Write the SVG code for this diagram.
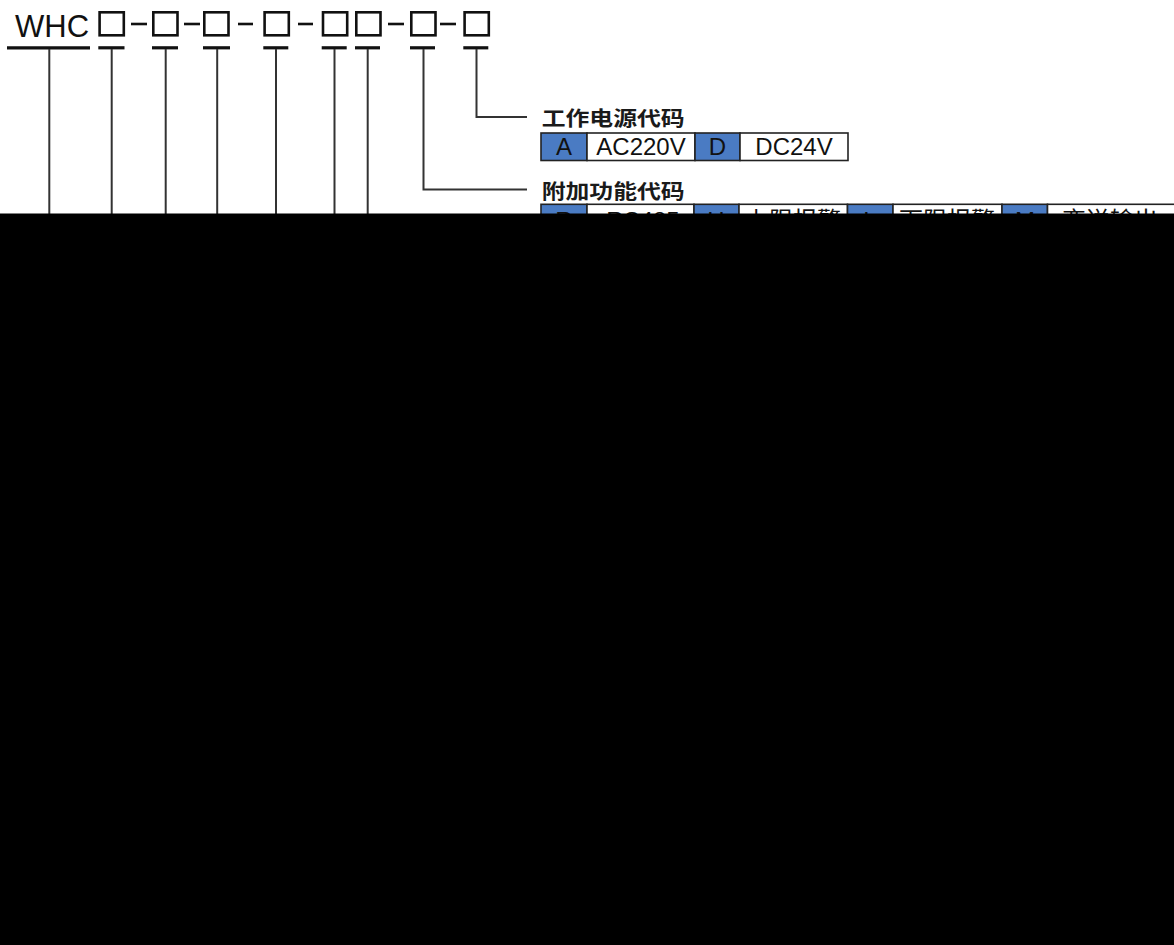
<svg xmlns="http://www.w3.org/2000/svg" width="1174" height="945" viewBox="0 0 1174 945">
<style>
.bx{fill:none;stroke:#111;stroke-width:2.6}
.ds{stroke:#111;stroke-width:2.6}
.ul{stroke:#111;stroke-width:3.2}
.cn{fill:none;stroke:#333;stroke-width:2}
.code{font-family:"Liberation Sans",Arial,sans-serif;font-size:31px;fill:#111}
.lbl{font-family:"Noto Sans CJK SC","Noto Sans",sans-serif;font-size:20px;font-weight:bold;fill:#1a1a1a}
.cell{stroke:#222;stroke-width:1.6}
.b{fill:#4A7BC3}
.w{fill:#fff}
.ct{font-family:"Liberation Sans",Arial,"Noto Sans CJK SC",sans-serif;font-size:24px;fill:#111;text-anchor:middle}
</style>
<rect width="1174" height="945" fill="#fff"/>
<g id="model">
<text class="code" x="15" y="36.5">WHC</text>
<rect class="bx" x="99.6" y="12.3" width="24.2" height="23"/>
<line class="ds" x1="131" y1="24" x2="147" y2="24"/>
<rect class="bx" x="153.3" y="12.3" width="24.2" height="23"/>
<line class="ds" x1="184" y1="24" x2="200" y2="24"/>
<rect class="bx" x="204.3" y="12.3" width="24.2" height="23"/>
<line class="ds" x1="238" y1="24" x2="253" y2="24"/>
<rect class="bx" x="264.6" y="12.3" width="24.2" height="23"/>
<line class="ds" x1="298" y1="24" x2="313" y2="24"/>
<rect class="bx" x="323" y="12.3" width="24.2" height="23"/>
<rect class="bx" x="356.3" y="12.3" width="24.2" height="23"/>
<line class="ds" x1="388" y1="24" x2="404" y2="24"/>
<rect class="bx" x="411.3" y="12.3" width="24.2" height="23"/>
<line class="ds" x1="440" y1="24" x2="456" y2="24"/>
<rect class="bx" x="464.6" y="12.3" width="24.2" height="23"/>
</g>
<g id="underlines">
<line class="ul" x1="7" y1="47.8" x2="90" y2="47.8"/>
<line class="ul" x1="98.3" y1="47.8" x2="124.5" y2="47.8"/>
<line class="ul" x1="152" y1="47.8" x2="178" y2="47.8"/>
<line class="ul" x1="203" y1="47.8" x2="230" y2="47.8"/>
<line class="ul" x1="263.3" y1="47.8" x2="288.3" y2="47.8"/>
<line class="ul" x1="321.7" y1="47.8" x2="346.7" y2="47.8"/>
<line class="ul" x1="355" y1="47.8" x2="380" y2="47.8"/>
<line class="ul" x1="410" y1="47.8" x2="435" y2="47.8"/>
<line class="ul" x1="463.3" y1="47.8" x2="488.3" y2="47.8"/>
</g>
<g id="connectors">
<line class="cn" x1="49.3" y1="49" x2="49.3" y2="214"/>
<line class="cn" x1="111.7" y1="49" x2="111.7" y2="214"/>
<line class="cn" x1="165.7" y1="49" x2="165.7" y2="214"/>
<line class="cn" x1="217.2" y1="49" x2="217.2" y2="214"/>
<line class="cn" x1="276" y1="49" x2="276" y2="214"/>
<line class="cn" x1="334.5" y1="49" x2="334.5" y2="214"/>
<line class="cn" x1="367.7" y1="49" x2="367.7" y2="214"/>
<polyline class="cn" points="423.5,49 423.5,189.5 527,189.5"/>
<polyline class="cn" points="476.5,49 476.5,117 527,117"/>
</g>
<g id="power">
<text class="lbl" x="541.7" y="126" textLength="143" lengthAdjust="spacingAndGlyphs">工作电源代码</text>
<rect class="cell b" x="541" y="133" width="46" height="27.5"/>
<rect class="cell w" x="587" y="133" width="108" height="27.5"/>
<rect class="cell b" x="695" y="133" width="45" height="27.5"/>
<rect class="cell w" x="740" y="133" width="108" height="27.5"/>
<text class="ct" x="564" y="155">A</text>
<text class="ct" x="641" y="155">AC220V</text>
<text class="ct" x="717.5" y="155">D</text>
<text class="ct" x="794" y="155">DC24V</text>
</g>
<g id="extra">
<text class="lbl" x="541.7" y="198.5" textLength="143" lengthAdjust="spacingAndGlyphs">附加功能代码</text>
<rect class="cell b" x="541" y="204.3" width="46" height="27.5"/>
<rect class="cell w" x="587" y="204.3" width="107" height="27.5"/>
<rect class="cell b" x="694" y="204.3" width="45" height="27.5"/>
<rect class="cell w" x="739" y="204.3" width="108.5" height="27.5"/>
<rect class="cell b" x="847.5" y="204.3" width="45.5" height="27.5"/>
<rect class="cell w" x="893" y="204.3" width="109" height="27.5"/>
<rect class="cell b" x="1002" y="204.3" width="45.5" height="27.5"/>
<rect class="cell w" x="1047.5" y="204.3" width="140" height="27.5"/>
<text class="ct" x="564" y="229">R</text>
<text class="ct" x="643" y="229">RS485</text>
<text class="ct" x="716" y="229">H</text>
<text class="ct" x="793" y="229">上限报警</text>
<text class="ct" x="870" y="229">L</text>
<text class="ct" x="947" y="229">下限报警</text>
<text class="ct" x="1025" y="229">M</text>
<text class="ct" x="1110" y="229">变送输出</text>
</g>
<rect id="blackout" x="0" y="213.5" width="1174" height="731.5" fill="#000"/>
</svg>
